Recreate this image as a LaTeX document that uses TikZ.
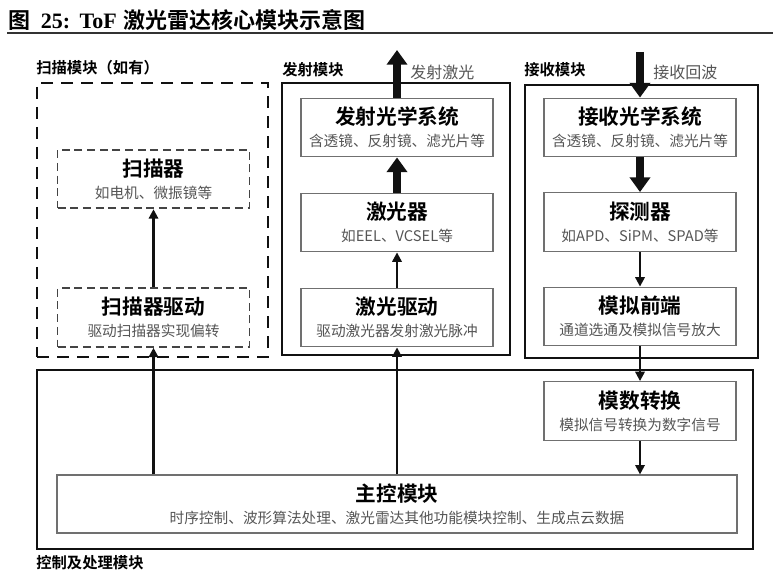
\documentclass[tikz,border=0pt]{standalone}
\usepackage{fontspec}
\setmainfont{Liberation Serif}
\newfontfamily\cjk{Noto Sans CJK SC}[BoldFont={Noto Sans CJK SC Bold}]
\usepackage{xcolor}
\usetikzlibrary{
  arrows.meta,
  positioning,
  fit
}
\definecolor{FrameBlack}{HTML}{111111}
\definecolor{BoxGray}{HTML}{707070}
\definecolor{DashGray}{HTML}{444444}
\definecolor{SubGray}{HTML}{555555}
\definecolor{RuleGray}{HTML}{333333}
\tikzset{
  block/.style={
    draw=BoxGray,
    line width=0.9pt,
    align=center,
    inner sep=0pt,
    minimum width=144pt,
    minimum height=44pt,
    text=SubGray,
    font=\cjk\fontsize{11}{16.5}\selectfont
  },
  dashblock/.style={
    block,
    draw=DashGray,
    line width=1.4pt,
    dash pattern=on 6pt off 3.5pt
  },
  mainblock/.style={
    block,
    minimum width=510pt,
    minimum height=43.5pt
  },
  frame/.style={
    draw=FrameBlack,
    line width=2pt,
    inner sep=0pt
  },
  dashframe/.style={
    frame,
    line width=2.2pt,
    dash pattern=on 9pt off 6pt
  },
  modlabel/.style={
    anchor=west,
    inner sep=0pt,
    font=\cjk\bfseries\fontsize{11.5}{13}\selectfont
  },
  beamlabel/.style={
    anchor=west,
    inner sep=0pt,
    text=SubGray,
    font=\cjk\fontsize{12}{14}\selectfont
  },
  beam/.style={
    -{Triangle[length=11pt,width=15pt]},
    line width=6.5pt,
    draw=FrameBlack
  },
  signal/.style={
    -{Triangle[length=7pt,width=7pt]},
    line width=1.6pt,
    draw=FrameBlack
  }
}
\newcommand{\blocktitle}[1]{{\color{black}\bfseries\fontsize{15.5}{17}\selectfont #1}}

\begin{document}
\begin{tikzpicture}[x=0.75pt,y=-0.75pt]

  \useasboundingbox (0,0) rectangle (773,580);

  \node[
    anchor=west,
    inner sep=0pt,
    font=\bfseries\fontsize{16.5}{18}\selectfont
  ] (figtitle) at (8,20) {
    {\cjk 图}\hspace{8pt}25:\hspace{7pt}ToF\hspace{5pt}{\cjk 激光雷达核心模块示意图}
  };

  \draw[RuleGray, line width=1.6pt]
  (7,33) -- (773,33);

  \node[dashframe, fit={(37,83) (268,357)}] (scanframe) {};
  \node[frame, fit={(282,83) (510,355)}] (txframe) {};
  \node[frame, fit={(525,85) (758,358)}] (rxframe) {};
  \node[frame, fit={(37,370) (753,549)}] (ctrlframe) {};

  \node[modlabel] (scanlabel) at (36,68) {扫描模块（如有）};
  \node[modlabel] (txlabel) at (282,70) {发射模块};
  \node[modlabel] (rxlabel) at (524,70) {接收模块};
  \node[modlabel] (ctrllabel) at (36,563) {控制及处理模块};

  \node[dashblock] (scanner) at (153.5,179) {
    \blocktitle{扫描器}\\
    如电机、微振镜等
  };

  \node[dashblock] (scandrv) at (153.5,317.5) {
    \blocktitle{扫描器驱动}\\
    驱动扫描器实现偏转
  };

  \node[block] (txopt) at (397,127.5) {
    \blocktitle{发射光学系统}\\
    含透镜、反射镜、滤光片等
  };

  \node[block] (laser) at (397,222.5) {
    \blocktitle{激光器}\\
    如EEL、VCSEL等
  };

  \node[block] (laserdrv) at (397,317.5) {
    \blocktitle{激光驱动}\\
    驱动激光器发射激光脉冲
  };

  \node[block] (rxopt) at (640,127.5) {
    \blocktitle{接收光学系统}\\
    含透镜、反射镜、滤光片等
  };

  \node[block] (detector) at (640,222) {
    \blocktitle{探测器}\\
    如APD、SiPM、SPAD等
  };

  \node[block] (afe) at (640,316.5) {
    \blocktitle{模拟前端}\\
    通道选通及模拟信号放大
  };

  \node[block] (adc) at (640,411) {
    \blocktitle{模数转换}\\
    模拟信号转换为数字信号
  };

  \node[mainblock] (main) at (397,504) {
    \blocktitle{主控模块}\\
    时序控制、波形算法处理、激光雷达其他功能模块控制、生成点云数据
  };

  \coordinate (txout) at (397,50);
  \coordinate (rxin) at (640,52);

  \node[beamlabel] (txbeam) at (410,72) {发射激光};
  \node[beamlabel] (rxbeam) at (653,72) {接收回波};

  \draw[beam]
  (txopt.north) --
  (txout);

  \draw[beam]
  (laser.north) --
  (txopt.south);

  \draw[signal]
  (laserdrv.north) --
  (laser.south);

  \draw[signal]
  (main.north -| laserdrv) --
  (laserdrv.south);

  \draw[signal]
  (main.north -| scandrv) --
  (scandrv.south);

  \draw[signal]
  (scandrv.north) --
  (scanner.south);

  \draw[beam]
  (rxin) --
  (rxopt.north);

  \draw[beam]
  (rxopt.south) --
  (detector.north);

  \draw[signal]
  (detector.south) --
  (afe.north);

  \draw[signal]
  (afe.south) --
  (adc.north);

  \draw[signal]
  (adc.south) --
  (main.north -| adc);

\end{tikzpicture}
\end{document}
